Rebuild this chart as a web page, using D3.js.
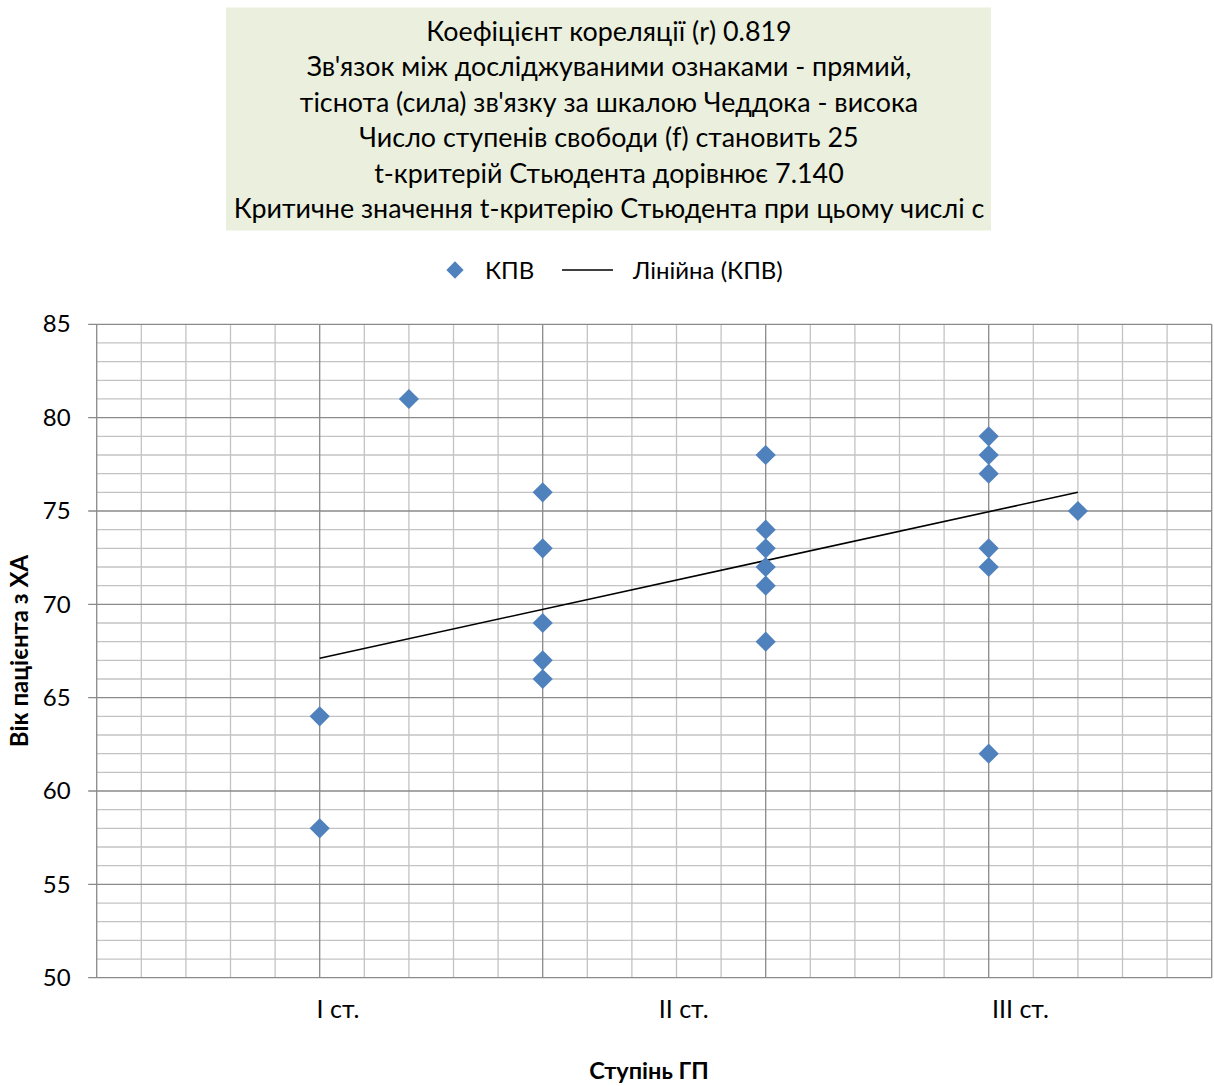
<!DOCTYPE html>
<html>
<head>
<meta charset="utf-8">
<script src="https://cdn.jsdelivr.net/npm/d3@7"></script>
<style>
  html, body { margin: 0; padding: 0; background: #fff; }
  svg { display: block; font-family: Lato, "Open Sans", sans-serif; }
</style>
</head>
<body>
<svg id="chart" width="1214" height="1086"></svg>
<script>
// Stage of hypertension (numeric position) and patient age for each observation
const stageX = [1, 1, 1.4, 2, 2, 2, 2, 2, 3, 3, 3, 3, 3, 3, 4, 4, 4, 4, 4, 4, 4.4];
const ageY   = [64, 58, 81, 76, 73, 69, 67, 66, 78, 74, 73, 72, 71, 68, 79, 78, 77, 73, 72, 62, 75];

// Linear trend line: age = intercept + slope * stage
const trendIntercept = 64.5;
const trendSlope = 2.615;

// Category labels along the horizontal axis and where they sit on it
const categories = ["I ст.", "II ст.", "III ст."];
const categoryAt = [1.08, 2.63, 4.14];

// Vertical axis ticks
const yTicks = [50, 55, 60, 65, 70, 75, 80, 85];

// Statistics summary shown above the chart
const summaryLines = [
  "Коефіцієнт кореляції (r) 0.819",
  "Зв'язок між досліджуваними ознаками - прямий,",
  "тіснота (сила) зв'язку за шкалою Чеддока - висока",
  "Число ступенів свободи (f) становить 25",
  "t-критерій Стьюдента дорівнює 7.140",
  "Критичне значення t-критерію Стьюдента при цьому числі с"
];

const seriesName = "КПВ";
const trendName = "Лінійна (КПВ)";
const xTitle = "Ступінь ГП";
const yTitle = "Вік пацієнта з ХА";

const svg = d3.select("#chart");

const x = d3.scaleLinear().domain([0, 5]).range([96.7, 1211.7]);
const y = d3.scaleLinear().domain([50, 85]).range([977.7, 324.3]);

const minorCol = "#c3c3c3";
const majorCol = "#8a8a8a";

// ---- summary box ----
const box = svg.append("g");
box.append("rect")
  .attr("x", 226).attr("y", 7.5).attr("width", 765).attr("height", 223)
  .attr("fill", "#ebf0de");
const boxText = box.append("g").attr("fill", "#000");
summaryLines.forEach((t, i) => {
  boxText.append("text")
    .attr("x", 609).attr("y", 40.5 + i * 35.5)
    .attr("text-anchor", "middle")
    .attr("font-size", 25)
    .text(t);
});
// size the summary text so the widest line spans the box
(function fitSummary() {
  const nodes = boxText.selectAll("text").nodes();
  const widest = d3.max(nodes, n => n.getComputedTextLength());
  const fs = 25 * 751 / widest;
  boxText.selectAll("text").attr("font-size", fs);
})();

// ---- grid ----
const grid = svg.append("g");
// minor horizontals every 1 year
grid.selectAll("line.hmin")
  .data(d3.range(51, 85).filter(v => v % 5 !== 0))
  .join("line")
  .attr("x1", x(0)).attr("x2", x(5))
  .attr("y1", d => y(d)).attr("y2", d => y(d))
  .attr("stroke", minorCol).attr("stroke-width", 1.3);
// minor verticals every 0.2
grid.selectAll("line.vmin")
  .data(d3.range(1, 26).map(i => i / 5).filter(v => Math.abs(v - Math.round(v)) > 1e-6))
  .join("line")
  .attr("y1", y(50)).attr("y2", y(85))
  .attr("x1", d => x(d)).attr("x2", d => x(d))
  .attr("stroke", minorCol).attr("stroke-width", 1.3);
// major verticals every 1
grid.selectAll("line.vmaj")
  .data([1, 2, 3, 4, 5])
  .join("line")
  .attr("y1", y(50)).attr("y2", y(85))
  .attr("x1", d => x(d)).attr("x2", d => x(d))
  .attr("stroke", majorCol).attr("stroke-width", 1.3);
// major horizontals every 5 (extend left as tick marks)
grid.selectAll("line.hmaj")
  .data(yTicks)
  .join("line")
  .attr("x1", x(0) - 8.5).attr("x2", x(5))
  .attr("y1", d => y(d)).attr("y2", d => y(d))
  .attr("stroke", majorCol).attr("stroke-width", 1.3);
// left axis line
grid.append("line")
  .attr("x1", x(0)).attr("x2", x(0)).attr("y1", y(50)).attr("y2", y(85))
  .attr("stroke", majorCol).attr("stroke-width", 1.3);

// ---- axes ----
const yAxis = svg.append("g")
  .attr("transform", `translate(${x(0)},0)`)
  .call(d3.axisLeft(y).tickValues(yTicks).tickSize(0).tickPadding(26).tickFormat(d3.format("d")));
yAxis.select(".domain").remove();
yAxis.selectAll("text").attr("font-size", 24).attr("fill", "#000")
  .attr("font-family", "Lato, sans-serif");

const xAxis = svg.append("g")
  .attr("transform", `translate(0,${y(50)})`)
  .call(d3.axisBottom(x).tickValues(categoryAt).tickSize(0).tickPadding(23)
    .tickFormat((d, i) => categories[i]));
xAxis.select(".domain").remove();
xAxis.selectAll("text").attr("font-size", 25).attr("fill", "#000")
  .attr("font-family", "Lato, sans-serif");

// axis titles
svg.append("text")
  .attr("x", 649).attr("y", 1079)
  .attr("text-anchor", "middle")
  .attr("font-size", 23.5).attr("font-weight", "bold")
  .text(xTitle);
svg.append("text")
  .attr("transform", `translate(28,${(y(50) + y(85)) / 2}) rotate(-90)`)
  .attr("text-anchor", "middle")
  .attr("font-size", 24).attr("font-weight", "bold")
  .text(yTitle);

// ---- trend line ----
const xExt = d3.extent(stageX);
svg.append("line")
  .attr("x1", x(xExt[0])).attr("y1", y(trendIntercept + trendSlope * xExt[0]))
  .attr("x2", x(xExt[1])).attr("y2", y(trendIntercept + trendSlope * xExt[1]))
  .attr("stroke", "#000").attr("stroke-width", 1.6);

// ---- points ----
const diamond = d3.symbol().type(d3.symbolDiamond2).size(260);
svg.append("g").selectAll("path")
  .data(stageX.map((s, i) => ({ s, a: ageY[i] })))
  .join("path")
  .attr("d", diamond)
  .attr("transform", d => `translate(${x(d.s)},${y(d.a)})`)
  .attr("fill", "#4f81bd");

// ---- legend ----
const lg = svg.append("g").attr("font-size", 24).attr("fill", "#000");
lg.append("path")
  .attr("d", d3.symbol().type(d3.symbolDiamond2).size(190))
  .attr("transform", "translate(455,270)")
  .attr("fill", "#4f81bd");
lg.append("text").attr("x", 485).attr("y", 278.5).text(seriesName);
lg.append("line").attr("x1", 562).attr("x2", 613).attr("y1", 270).attr("y2", 270)
  .attr("stroke", "#000").attr("stroke-width", 1.6);
lg.append("text").attr("x", 633).attr("y", 278.5).text(trendName);
</script>
</body>
</html>
